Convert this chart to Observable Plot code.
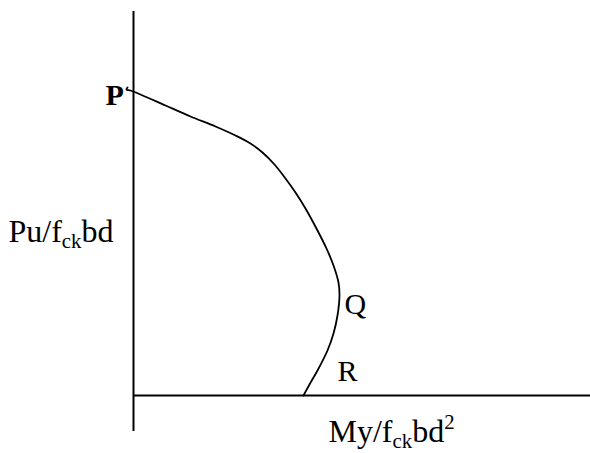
<!DOCTYPE html>
<html>
<head>
<meta charset="utf-8">
<script src="https://cdn.jsdelivr.net/npm/d3@7"></script>
<script src="https://cdn.jsdelivr.net/npm/@observablehq/plot@0.6"></script>
<style>
  html, body { margin: 0; padding: 0; background: #fff; }
  #chart svg { display: block; }
</style>
</head>
<body>
<div id="chart"></div>
<script>
// Interaction curve (moment vs. axial load), in arbitrary units
const moment = [-0.06, -0.07, -0.03, 0.07, 0.32, 0.57, 0.82, 1.02, 1.17, 1.29, 1.41, 1.52, 1.62, 1.72, 1.84, 1.93, 2.00, 2.05, 2.06, 2.04, 2.00, 1.94, 1.84, 1.76, 1.70];
const load   = [3.08, 3.06, 3.05, 3.01, 2.90, 2.79, 2.69, 2.60, 2.52, 2.43, 2.31, 2.17, 2.03, 1.87, 1.65, 1.47, 1.30, 1.13, 1.00, 0.80, 0.62, 0.45, 0.25, 0.11, 0.00];

// Axis extents
const xAxisEnd = 4.57;
const yAxisTop = 3.84;
const yAxisBottom = -0.36;

// Point labels
const pointLabels = ["P", "Q", "R"];
const pointLabelX = [-0.28, 2.11, 2.04];
const pointLabelY = [3.006, 0.916, 0.246];
const pointLabelWeight = ["bold", "normal", "normal"];

// Axis titles
const axisLabels = ["Pu/f_{ck}bd", "My/f_{ck}bd^{2}"];
const axisLabelX = [-1.25, 1.95];
const axisLabelY = [1.64, -0.365];

const curve = moment.map((m, i) => ({m, p: load[i]}));
const pointRows = pointLabels.map((t, i) => ({t, x: pointLabelX[i], y: pointLabelY[i], w: pointLabelWeight[i]}));
const axisRows = axisLabels.map((t, i) => ({t, x: axisLabelX[i], y: axisLabelY[i]}));

const FS_AXIS = 32;
const FS_POINT = 30;
const chart = Plot.plot({
  width: 590,
  height: 453,
  margin: 0,
  x: {domain: [-1.33, 4.57], axis: null},
  y: {domain: [-0.58, 3.95], axis: null},
  style: {background: "#fff", fontFamily: "'Liberation Serif', 'Times New Roman', serif"},
  marks: [
    Plot.ruleX([0], {y1: yAxisBottom, y2: yAxisTop, stroke: "#000", strokeWidth: 2}),
    Plot.ruleY([0], {x1: 0, x2: xAxisEnd, stroke: "#000", strokeWidth: 2}),
    Plot.line(curve, {x: "m", y: "p", curve: "catmull-rom", stroke: "#000", strokeWidth: 1.8}),
    Plot.text(axisRows, {x: "x", y: "y", text: "t", textAnchor: "start", fontSize: FS_AXIS, fill: "#000"}),
    Plot.text(pointRows.filter(d => d.w === "normal"), {x: "x", y: "y", text: "t", textAnchor: "start", fontSize: FS_POINT, fill: "#000"}),
    Plot.text(pointRows.filter(d => d.w === "bold"), {x: "x", y: "y", text: "t", textAnchor: "start", fontSize: FS_POINT, fontWeight: "bold", fill: "#000"})
  ]
});

// Render _{sub} and ^{sup} as real sub/superscript tspans
d3.select(chart).selectAll("text").each(function() {
  const s = this.textContent;
  if (!/[_^]\{/.test(s)) return;
  const node = d3.select(this);
  node.text(null);
  const re = /([_^])\{([^}]*)\}|([^_^]+)/g;
  let m, shift = 0;
  while ((m = re.exec(s))) {
    if (m[3]) {
      node.append("tspan").attr("dy", -shift).text(m[3]);
      shift = 0;
    } else {
      const d = m[1] === "_" ? 6 : -13;
      node.append("tspan").attr("dy", d - shift).attr("font-size", FS_AXIS * 0.65).text(m[2]);
      shift = d;
    }
  }
});

document.getElementById("chart").appendChild(chart);
</script>
</body>
</html>
